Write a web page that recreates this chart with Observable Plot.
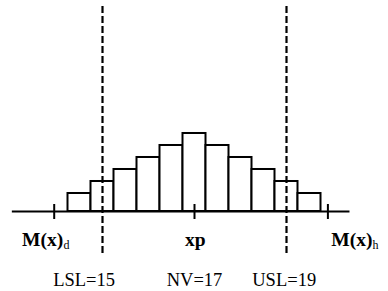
<!DOCTYPE html>
<html><head><meta charset="utf-8">
<script src="https://cdn.jsdelivr.net/npm/d3@7"></script>
<script src="https://cdn.jsdelivr.net/npm/@observablehq/plot@0.6"></script>
<style>html,body{margin:0;padding:0;background:#fff;overflow:hidden}</style>
</head><body><div id="chart"></div>
<script>
// Histogram bins (lower edges), bin width and counts
const binLower = [14.25, 14.75, 15.25, 15.75, 16.25, 16.75, 17.25, 17.75, 18.25, 18.75, 19.25];
const binWidth = 0.5;
const counts = [3, 5, 7, 9, 11, 13, 11, 9, 7, 5, 3];

// Specification limits (dashed lines) and their labels
const specLimits = [15, 19];
const specLabels = ["LSL=15", "NV=17", "USL=19"];
const specLabelX = [14.6, 17, 18.95];

// Axis ticks and their labels
const axisTicks = [13.95, 17, 19.9];
const axisMain = ["M(x)", "xp", "M(x)"];
const axisMainX = [13.7, 17.02, 20.42];
const axisSub = ["d", "h"];
const axisSubX = [14.15, 20.87];

// Axis line extent
const axisExtent = [13.04, 20.38];
const dashExtent = [-7, 34.33];

const bins = binLower.map((x, i) => ({x1: x, x2: x + binWidth, y: counts[i]}));

const chart = Plot.plot({
  width: 388,
  height: 291,
  marginLeft: 10,
  marginRight: 10,
  marginTop: 5,
  marginBottom: 80,
  x: {domain: [13, 21], axis: null},
  y: {domain: [0, 34.33], axis: null},
  style: {fontFamily: "'Liberation Serif', 'Times New Roman', serif", background: "#fff", color: "#000"},
  marks: [
    Plot.rectY(bins, {x1: "x1", x2: "x2", y: "y", fill: "#fff", stroke: "#000", strokeWidth: 2}),
    Plot.ruleY([0], {x1: axisExtent[0], x2: axisExtent[1], stroke: "#000", strokeWidth: 2}),
    Plot.ruleX(axisTicks, {y1: -1.33, y2: 1.17, stroke: "#000", strokeWidth: 2}),
    Plot.ruleX(specLimits, {y1: dashExtent[0], y2: dashExtent[1], stroke: "#000", strokeWidth: 2.2, strokeDasharray: "7,3"}),
    Plot.text(axisMain, {x: (d, i) => axisMainX[i], y: 0, text: d => d, dy: 34, lineAnchor: "bottom", textAnchor: "middle", fontSize: 19.5, fontWeight: "bold", fill: "#000"}),
    Plot.text(axisSub, {x: (d, i) => axisSubX[i], y: 0, text: d => d, dy: 37, lineAnchor: "bottom", textAnchor: "start", fontSize: 12, fill: "#000"}),
    Plot.text(specLabels, {x: (d, i) => specLabelX[i], y: 0, text: d => d, dy: 74, lineAnchor: "bottom", textAnchor: "middle", fontSize: 18.5, fill: "#000"})
  ]
});
document.getElementById("chart").appendChild(chart);
</script>
</body></html>
